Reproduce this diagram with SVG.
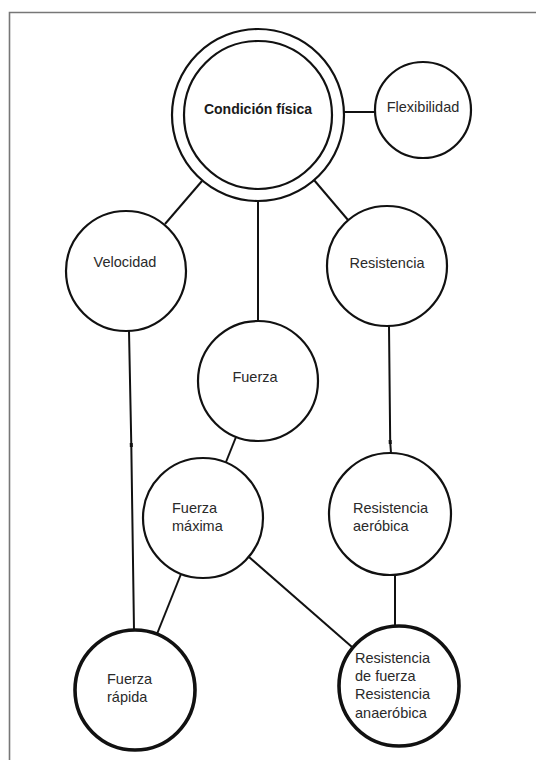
<svg xmlns="http://www.w3.org/2000/svg" width="536" height="760" viewBox="0 0 536 760">
<style>
.n{fill:#fff;stroke:#111;stroke-width:2.2}
.t{fill:#fff;stroke:#111;stroke-width:3.6}
.c{fill:none;stroke:#111;stroke-width:2}
text{font-family:"Liberation Sans",Arial,sans-serif;font-size:14.5px;fill:#2a2a2a}
.b{font-weight:bold;font-size:14px;fill:#1a1a1a}
</style>
<defs>
<marker id="tick" markerWidth="4" markerHeight="8" refX="2" refY="4" markerUnits="userSpaceOnUse" orient="auto"><rect x="0" y="2.5" width="4" height="3" fill="#111"/></marker>
</defs>
<rect width="536" height="760" fill="#fff"/>
<path d="M537 12.5H9.5V760" fill="none" stroke="#777" stroke-width="1.6"/>
<g id="connectors">
<line class="c" x1="344" y1="112" x2="375" y2="112"/>
<line class="c" x1="202" y1="181" x2="165" y2="224"/>
<line class="c" x1="314" y1="180" x2="348" y2="220"/>
<line class="c" x1="258" y1="201" x2="258" y2="321"/>
<polyline class="c" points="129,331 131.3,445 134,630" marker-mid="url(#tick)"/>
<polyline class="c" points="389,326 390.2,442 391,453" marker-mid="url(#tick)"/>
<line class="c" x1="236" y1="437" x2="226" y2="462"/>
<line class="c" x1="181" y1="574" x2="157" y2="634"/>
<line class="c" x1="249" y1="557" x2="352" y2="647"/>
<line class="c" x1="395" y1="575" x2="395" y2="626"/>
</g>
<g id="condicion">
<circle class="n" cx="258" cy="115" r="86"/>
<circle class="n" cx="258" cy="115" r="74"/>
<text class="b" x="258" y="114" text-anchor="middle">Condición física</text>
</g>
<g id="flexibilidad">
<circle class="n" cx="423" cy="110" r="48"/>
<text x="423" y="112" text-anchor="middle">Flexibilidad</text>
</g>
<g id="velocidad">
<circle class="n" cx="126" cy="271" r="60"/>
<text x="125" y="267" text-anchor="middle">Velocidad</text>
</g>
<g id="resistencia">
<circle class="n" cx="387" cy="266" r="60"/>
<text x="387" y="268" text-anchor="middle">Resistencia</text>
</g>
<g id="fuerza">
<circle class="n" cx="258" cy="381" r="60"/>
<text x="255" y="382" text-anchor="middle">Fuerza</text>
</g>
<g id="fuerza-maxima">
<circle class="n" cx="203" cy="518" r="60"/>
<text x="172" y="513">Fuerza</text>
<text x="172" y="531">máxima</text>
</g>
<g id="resistencia-aerobica">
<circle class="n" cx="390" cy="514" r="61"/>
<text x="353" y="513">Resistencia</text>
<text x="353" y="531">aeróbica</text>
</g>
<g id="fuerza-rapida">
<circle class="t" cx="135" cy="690" r="60"/>
<text x="107" y="684">Fuerza</text>
<text x="107" y="702">rápida</text>
</g>
<g id="resistencia-fuerza">
<circle class="t" cx="399" cy="686" r="60"/>
<text x="355" y="663">Resistencia</text>
<text x="355" y="681">de fuerza</text>
<text x="355" y="699">Resistencia</text>
<text x="355" y="718">anaeróbica</text>
</g>
</svg>
